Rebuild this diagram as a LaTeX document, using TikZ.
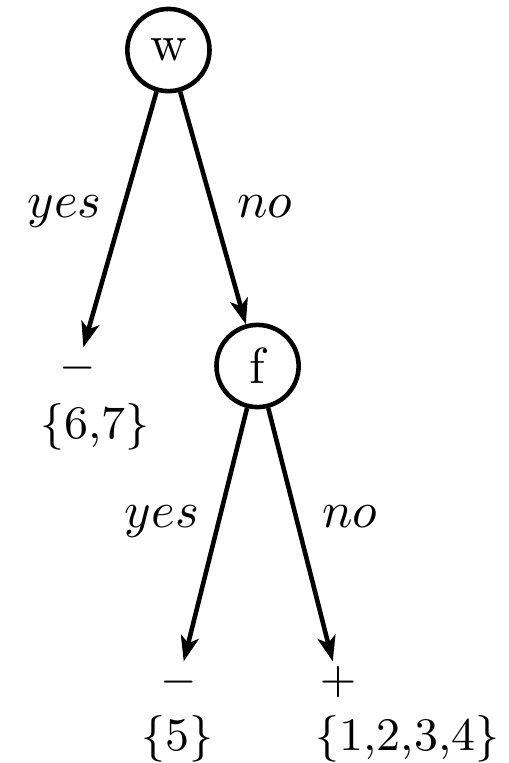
\documentclass[tikz,border=0pt]{standalone}
\usepackage{amsmath,amssymb}
\usepackage{tikz}
\usetikzlibrary{arrows.meta,positioning}
\newcommand{\setsz}{\fontsize{9.2}{11}\selectfont}
\newcommand{\signsz}{\fontsize{9.5}{11}\selectfont}
\tikzset{
  tnode/.style={draw, circle, line width=0.9pt, minimum size=0.57cm, inner sep=0pt, font=\normalsize},
  leaf/.style={inner sep=0.8pt, font=\signsz},
  setlab/.style={anchor=base, font=\setsz},
  blab/.style={anchor=base, font=\normalsize},
  tarr/.style={-{Stealth[length=5pt, width=3.6pt, inset=1.3pt]}, line width=0.9pt},
}

\begin{document}
\begin{tikzpicture}
    \useasboundingbox (0,0) rectangle (3.523,-5.291);
    \node[tnode] (w) at (1.168,-0.347) {w};
    \node[tnode] (f) at (1.786,-2.538) {f};
    \node[leaf] (l1) at (0.537,-2.552) {$-$};
    \node[leaf] (l2) at (1.238,-4.730) {$-$};
    \node[leaf] (l3) at (2.344,-4.730) {$+$};
    \node[setlab] (s1) at (0.659,-3.044) {\{6,7\}};
    \node[setlab] (s2) at (1.231,-5.201) {\{5\}};
    \node[setlab] (s3) at (2.826,-5.201) {\{1,2,3,4\}};
    \draw[tarr] (w) -- (l1);
    \draw[tarr] (w) -- (f);
    \draw[tarr] (f) -- (l2);
    \draw[tarr] (f) -- (l3);
    \node[blab] (y1) at (0.447,-1.505) {$yes$};
    \node[blab] (n1) at (1.838,-1.505) {$no$};
    \node[blab] (y2) at (1.123,-3.655) {$yes$};
    \node[blab] (n2) at (2.424,-3.655) {$no$};
\end{tikzpicture}
\end{document}
